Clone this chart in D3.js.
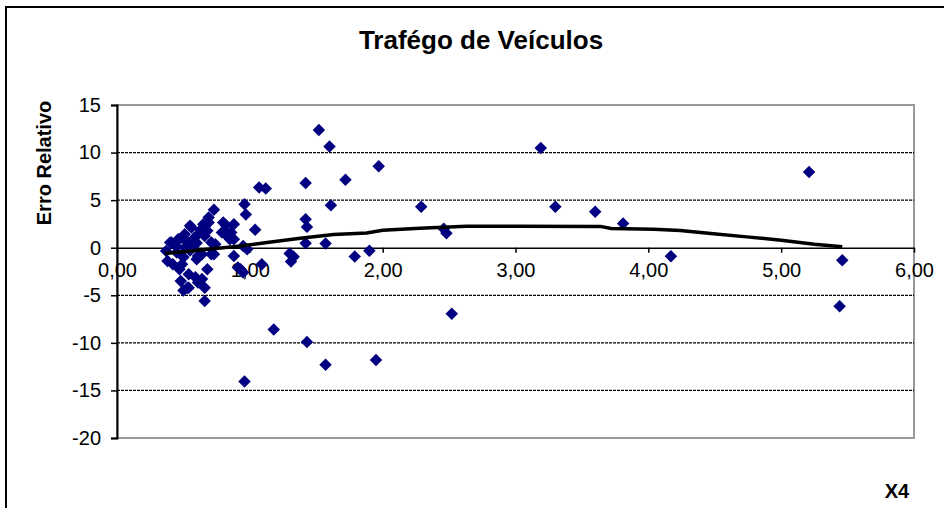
<!doctype html>
<html lang="pt">
  <head>
    <meta charset="utf-8"/>
    <title>Trafégo de Veículos</title>
    <script src="https://d3js.org/d3.v7.min.js"></script>
    <style>
      body { margin: 0; background: #fff; }
      svg text { font-family: "Liberation Sans", Arial, sans-serif; fill: #000; }
    </style>
  </head>
  <body>
    <div id="chart"></div>
    <script>
      // scatter points (X4, erro relativo)
      var xVals = [3.19, 3.30, 3.60, 3.81, 4.17, 5.21, 5.46, 5.44, 2.52, 2.29, 2.46, 2.48,
                   1.97, 1.72, 1.61, 1.60, 1.52, 1.42, 1.42, 1.43, 1.42, 1.57, 1.79, 1.90,
                   1.95, 1.57, 1.43, 1.18, 0.96, 1.07, 1.12, 0.96, 0.97, 0.73, 1.04, 1.30,
                   1.33, 1.31, 1.09, 0.98, 0.88, 0.82, 0.88, 0.86, 0.83, 0.88, 0.91, 0.95,
                   0.66, 0.54, 0.59, 0.68, 0.64, 0.60, 0.47, 0.42, 0.38, 0.37, 0.41, 0.47,
                   0.55, 0.61, 0.69, 0.68, 0.71, 0.71, 0.64, 0.57, 0.51, 0.80, 0.82, 0.85,
                   0.49, 0.54, 0.53, 0.61, 0.66, 0.61, 0.73, 0.93, 0.69, 0.65, 0.56, 0.51,
                   0.66, 0.46, 0.40, 0.74, 0.95, 0.79, 0.84, 0.50, 0.48, 0.45, 0.50, 0.55,
                   0.60, 0.53, 0.44, 0.58, 0.63, 0.66];
      var yVals = [10.47, 4.30, 3.77, 2.55, -0.89, 7.95, -1.32, -6.16, -6.93, 4.30, 2.00, 1.53,
                   8.55, 7.14, 4.47, 10.65, 12.37, 6.79, 3.00, 2.19, 0.47, 0.44, -0.93, -0.33,
                   -11.80, -12.30, -9.90, -8.60, -14.05, 6.34, 6.23, 4.58, 3.50, 4.00, 1.90, -0.61,
                   -0.96, -1.45, -1.74, -0.16, -0.86, 2.37, 2.47, 1.60, 1.42, 0.89, -2.08, -2.60,
                   -5.60, -4.20, -3.10, -2.26, -3.30, -1.20, -2.26, -1.74, -1.39, -0.34, 0.55, 0.89,
                   2.30, 1.42, 2.65, 1.77, 0.55, -0.68, -0.68, 0.02, 0.02, 2.65, 1.60, 0.89,
                   -1.74, -2.80, -4.20, -3.66, -4.20, -0.86, -0.68, -2.26, 3.18, 2.47, 2.13, 1.42,
                   1.24, 0.89, 0.55, 0.37, 0.19, 1.60, 1.07, -4.50, -3.50, -0.50, -1.00, -0.30,
                   0.50, 0.60, 0.20, 1.00, 1.90, 2.20];

      // trend line points
      var trendX = [0.36, 0.63, 0.93, 1.13, 1.38, 1.63, 1.88, 2.00, 2.28, 2.63, 3.00, 3.64,
                    3.72, 4.04, 4.24, 4.49, 4.74, 5.00, 5.25, 5.46];
      var trendY = [-0.60, -0.23, 0.19, 0.55, 1.00, 1.38, 1.55, 1.84, 2.05, 2.26, 2.26, 2.24,
                    2.02, 1.95, 1.81, 1.46, 1.14, 0.79, 0.37, 0.09];

      var xTicks = [0, 1, 2, 3, 4, 5, 6];
      var yTicks = [-20, -15, -10, -5, 0, 5, 10, 15];

      var w = 944;
      var h = 508;

      var xScale = d3.scaleLinear()
                     .domain([0, 6])
                     .range([117, 914]);

      var yScale = d3.scaleLinear()
                     .domain([-20, 15])
                     .range([438, 105]);

      var svg = d3.select("#chart")
                  .append("svg")
                  .attr("width", w)
                  .attr("height", h);

      //outer frame
      svg.append("rect")
         .attr("x", 6)
         .attr("y", 7)
         .attr("width", 960)
         .attr("height", 540)
         .attr("fill", "none")
         .attr("stroke", "#000")
         .attr("stroke-width", 2);

      //title
      svg.append("text")
         .attr("x", 481)
         .attr("y", 49)
         .attr("text-anchor", "middle")
         .attr("font-size", "26px")
         .attr("font-weight", "bold")
         .text("Trafégo de Veículos");

      //plot area border
      svg.append("rect")
         .attr("x", xScale(0))
         .attr("y", yScale(15))
         .attr("width", xScale(6) - xScale(0))
         .attr("height", yScale(-20) - yScale(15))
         .attr("fill", "none")
         .attr("stroke", "#999")
         .attr("stroke-width", 2);

      //gridlines
      svg.selectAll("line.grid")
         .data(yTicks.filter(function(d) { return d != 0 && d != 15 && d != -20; }))
         .enter()
         .append("line")
         .attr("class", "grid")
         .attr("x1", xScale(0))
         .attr("x2", xScale(6))
         .attr("y1", function(d) { return yScale(d); })
         .attr("y2", function(d) { return yScale(d); })
         .attr("stroke", "#000")
         .attr("stroke-width", 1.2)
         .attr("stroke-dasharray", "3,1");

      //Y axis
      var yAxis = d3.axisLeft()
                    .scale(yScale)
                    .tickValues(yTicks)
                    .tickSize(6)
                    .tickPadding(10)
                    .tickFormat(function(d) { return String(d); });

      var gy = svg.append("g")
                  .attr("transform", "translate(" + xScale(0) + ",0)")
                  .call(yAxis);
      gy.select(".domain").attr("stroke", "#000").attr("stroke-width", 2);
      gy.selectAll("line").attr("stroke", "#000").attr("stroke-width", 1.5);
      gy.selectAll("text")
        .attr("font-size", "20px")
        .attr("font-family", "Liberation Sans, Arial, sans-serif")
        .attr("fill", "#000");

      //X axis on the zero line
      var xAxis = d3.axisBottom()
                    .scale(xScale)
                    .tickValues(xTicks)
                    .tickSizeInner(5)
                    .tickSizeOuter(0)
                    .tickPadding(10)
                    .tickFormat(function(d) { return d.toFixed(2).replace(".", ","); });

      var gx = svg.append("g")
                  .attr("transform", "translate(0," + yScale(0) + ")")
                  .call(xAxis);
      gx.select(".domain").attr("stroke", "#000").attr("stroke-width", 1.5);
      gx.selectAll("line").attr("stroke", "#000").attr("stroke-width", 1.5);
      gx.selectAll("text")
        .attr("font-size", "20px")
        .attr("font-family", "Liberation Sans, Arial, sans-serif")
        .attr("fill", "#000");

      //points
      var points = xVals.map(function(x, i) { return { x: x, y: yVals[i] }; });
      var diamond = d3.symbol().type(d3.symbolSquare).size(78);

      svg.selectAll("path.pt")
         .data(points)
         .enter()
         .append("path")
         .attr("class", "pt")
         .attr("d", diamond)
         .attr("transform", function(d) {
           return "translate(" + xScale(d.x) + "," + yScale(d.y) + ") rotate(45)";
         })
         .attr("fill", "#000080");

      //trend line
      var trend = trendX.map(function(x, i) { return { x: x, y: trendY[i] }; });
      var line = d3.line()
                   .x(function(d) { return xScale(d.x); })
                   .y(function(d) { return yScale(d.y); });

      svg.append("path")
         .datum(trend)
         .attr("d", line)
         .attr("fill", "none")
         .attr("stroke", "#000")
         .attr("stroke-width", 3.5);

      //axis titles
      svg.append("text")
         .attr("transform", "translate(51,163) rotate(-90)")
         .attr("text-anchor", "middle")
         .attr("font-size", "20px")
         .attr("font-weight", "bold")
         .text("Erro Relativo");

      svg.append("text")
         .attr("x", 897)
         .attr("y", 498)
         .attr("text-anchor", "middle")
         .attr("font-size", "20px")
         .attr("font-weight", "bold")
         .text("X4");
    </script>
  </body>
</html>
